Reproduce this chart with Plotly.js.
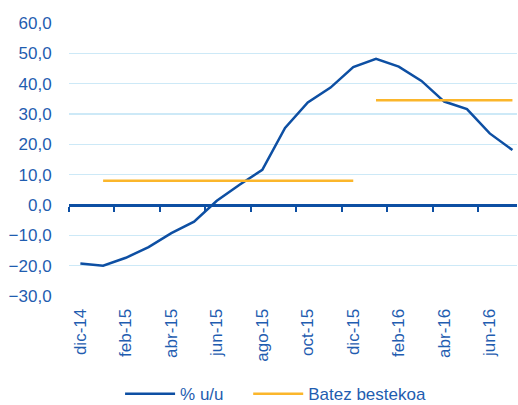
<!DOCTYPE html>
<html>
<head>
<meta charset="utf-8">
<script src="https://cdn.plot.ly/plotly-3.0.1.min.js"></script>
<style>html,body{margin:0;padding:0;background:#fff;}#chart{width:518px;height:405px;}</style>
</head>
<body>
<div id="chart"></div>
<script>
var months = ["dic-14","ene-15","feb-15","mar-15","abr-15","may-15","jun-15","jul-15","ago-15","sep-15","oct-15","nov-15","dic-15","ene-16","feb-16","mar-16","abr-16","may-16","jun-16","jul-16"];
var yoy = [-19.3,-20.0,-17.4,-13.9,-9.3,-5.5,1.4,6.7,11.6,25.4,33.8,38.7,45.5,48.2,45.6,40.9,34.1,31.6,23.6,18.1];
var avg2015 = [null,8.0,8.0,8.0,8.0,8.0,8.0,8.0,8.0,8.0,8.0,8.0,8.0,null,null,null,null,null,null,null];
var avg2016 = [null,null,null,null,null,null,null,null,null,null,null,null,null,34.5,34.5,34.5,34.5,34.5,34.5,34.5];
var seriesNames = ["% u/u","Batez bestekoa"];

var blue = "#0d4fa3", orange = "#fbb62b", txt = "#1f5db0", grid = "#cde9f7";
var font = "Liberation Sans, Arial, sans-serif";

var labelVals = months.filter(function(m,i){return i%2===0;});
var boundaries = [];
for (var i = 0; i < months.length; i += 2) boundaries.push(i - 0.5);

var traces = [
  {x: months, y: yoy, name: seriesNames[0], type: "scatter", mode: "lines",
   line: {color: blue, width: 2.5}, legend: "legend"},
  {x: months, y: avg2015, name: seriesNames[1], type: "scatter", mode: "lines",
   line: {color: orange, width: 2.5}, legend: "legend2", connectgaps: false},
  {x: months, y: avg2016, name: seriesNames[1], type: "scatter", mode: "lines",
   line: {color: orange, width: 2.5}, legend: "legend2", showlegend: false, connectgaps: false}
];

var legFont = {family: font, color: txt, size: 17};
var xr = [-0.5, 19.2];
var layout = {
  width: 518, height: 405,
  margin: {l: 69, r: 1, t: 23, b: 109, autoexpand: false},
  paper_bgcolor: "#fff", plot_bgcolor: "#fff",
  font: {family: font, color: txt, size: 17},
  showlegend: true,
  legend: {orientation: "h", x: 0.114, xanchor: "left", y: -0.36, yanchor: "middle",
           font: legFont, itemwidth: 50},
  legend2: {orientation: "h", x: 0.40, xanchor: "left", y: -0.36, yanchor: "middle",
           font: legFont, itemwidth: 50},
  xaxis: {type: "category", categoryorder: "array", categoryarray: months, range: xr,
          tickvals: labelVals, ticktext: labelVals, tickangle: -90,
          ticks: "outside", ticklen: 5, tickcolor: "rgba(0,0,0,0)",
          showgrid: false, showline: false, zeroline: false, automargin: false,
          tickfont: {family: font, color: txt, size: 17}},
  xaxis2: {overlaying: "x", anchor: "free", position: 1/3, type: "linear", range: xr,
           tickvals: boundaries, ticks: "outside", ticklen: 5, tickwidth: 2, tickcolor: blue,
           showticklabels: false, showline: true, linecolor: blue, linewidth: 2.5,
           showgrid: false, zeroline: false, side: "bottom", automargin: false},
  yaxis: {range: [-30, 60], dtick: 10, tick0: 0, tickformat: ".1f",
          showgrid: true, gridcolor: grid, gridwidth: 1.5, zeroline: false,
          ticks: "outside", ticklen: 13, tickcolor: "rgba(0,0,0,0)", automargin: false,
          tickfont: {family: font, color: txt, size: 17}},
  separators: ",."
};

traces.push({x: [xr[0]], y: [0], xaxis: "x2", yaxis: "y", mode: "markers",
             marker: {opacity: 0}, showlegend: false, hoverinfo: "skip"});

Plotly.newPlot("chart", traces, layout, {displayModeBar: false, staticPlot: true});
</script>
</body>
</html>
